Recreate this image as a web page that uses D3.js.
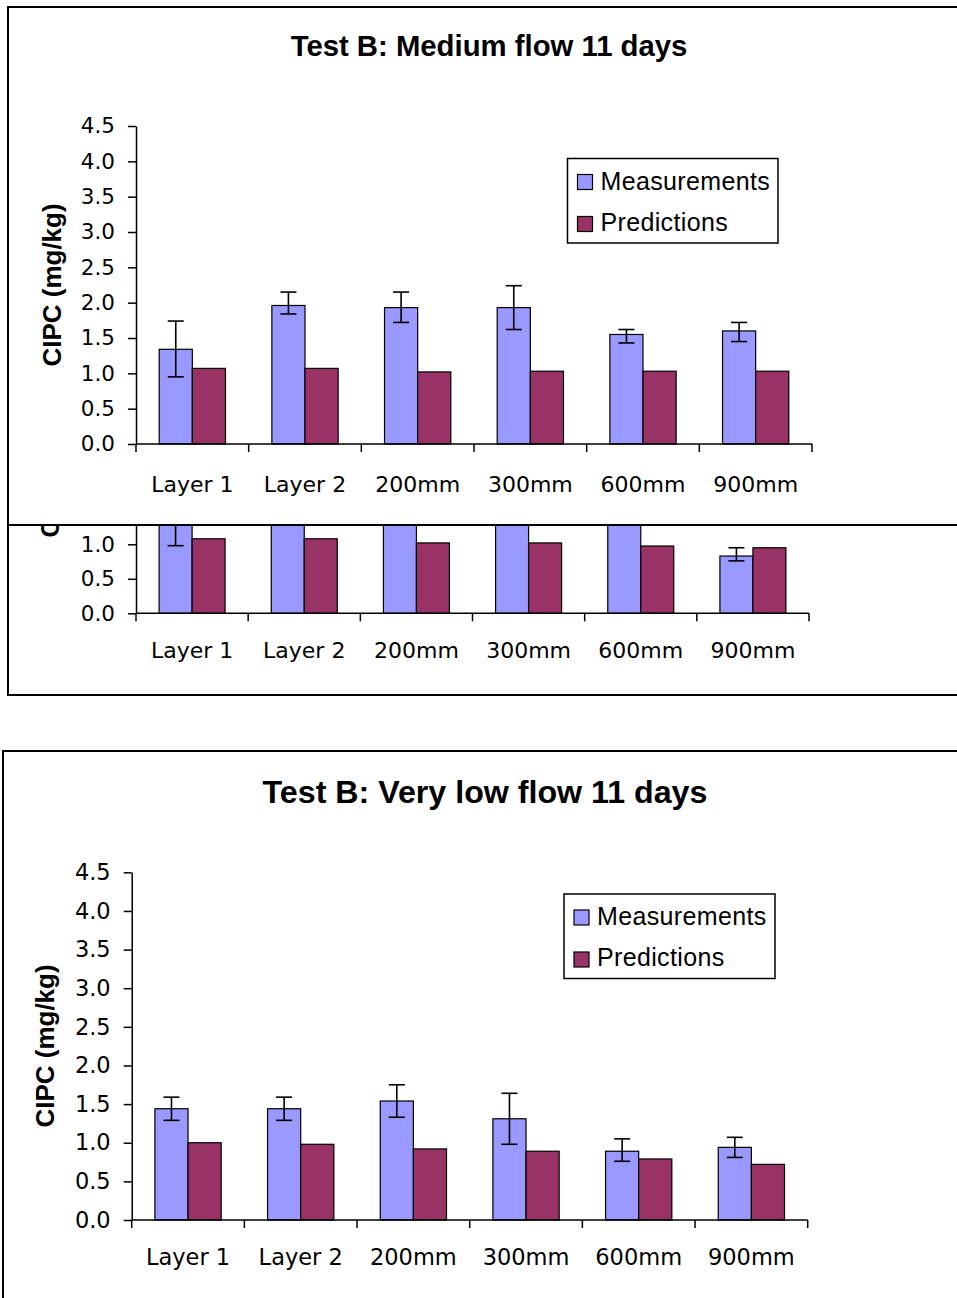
<!DOCTYPE html>
<html>
<head>
<meta charset="utf-8">
<script src="https://cdn.jsdelivr.net/npm/d3@7"></script>
<style>
  html, body { margin: 0; padding: 0; background: #fff; overflow: hidden; }
</style>
</head>
<body>
<div id="chart"></div>
<script>
const categories = ["Layer 1", "Layer 2", "200mm", "300mm", "600mm", "900mm"];
const seriesNames = ["Measurements", "Predictions"];
const yTickValues = [0, 0.5, 1, 1.5, 2, 2.5, 3, 3.5, 4, 4.5];

// Test B: Medium flow 11 days
const mediumMeas = [1.34, 1.96, 1.93, 1.93, 1.55, 1.60];
const mediumLow  = [0.95, 1.84, 1.72, 1.62, 1.43, 1.45];
const mediumHigh = [1.74, 2.15, 2.15, 2.24, 1.62, 1.72];
const mediumPred = [1.07, 1.07, 1.02, 1.03, 1.03, 1.03];

// chart lying underneath, mostly covered by the one above
const coveredMeas = [1.35, 1.95, 1.90, 1.90, 1.55, 0.83];
const coveredLow  = [0.98, 1.80, 1.70, 1.60, 1.42, 0.76];
const coveredHigh = [1.72, 2.10, 2.10, 2.20, 1.70, 0.95];
const coveredPred = [1.08, 1.08, 1.02, 1.02, 0.975, 0.95];

// Test B: Very low flow 11 days
const lowMeas = [1.44, 1.44, 1.54, 1.31, 0.89, 0.94];
const lowLow  = [1.29, 1.29, 1.33, 0.98, 0.76, 0.81];
const lowHigh = [1.59, 1.59, 1.75, 1.64, 1.05, 1.07];
const lowPred = [1.00, 0.98, 0.92, 0.89, 0.79, 0.72];

(function() {
  const colors = { Measurements: "#9999ff", Predictions: "#993366" };
  const tickFontFamily = "'DejaVu Sans', sans-serif";
  const labelFontFamily = "'Liberation Sans', Arial, sans-serif";

  const svg = d3.select("#chart").append("svg")
    .attr("width", 957).attr("height", 1298)
    .style("display", "block");

  function drawChart(cfg, meas, low, high, pred) {
    const g = svg.append("g");

    // Frame (white so it hides whatever lies underneath)
    g.append("rect")
      .attr("x", cfg.frame[0]).attr("y", cfg.frame[1])
      .attr("width", cfg.frame[2]).attr("height", cfg.frame[3])
      .attr("fill", "#fff").attr("stroke", "#000").attr("stroke-width", 2);

    const x = d3.scaleBand().domain(categories).range([cfg.x0, cfg.x1]);
    const xs = d3.scaleBand().domain(seriesNames).range([0, x.bandwidth()]).paddingOuter(0.7);
    const y = d3.scaleLinear().domain([0, 4.5]).range([cfg.y0, cfg.y1]);

    // Title
    if (cfg.title) {
      g.append("text")
        .attr("x", cfg.titleX).attr("y", cfg.titleY)
        .attr("text-anchor", "middle")
        .style("font-family", labelFontFamily).style("font-weight", "bold")
        .style("font-size", cfg.titleSize + "px")
        .text(cfg.title);
    }

    // Y axis title
    g.append("text")
      .attr("transform", `translate(${cfg.yLabelX},${cfg.yLabelY}) rotate(-90)`)
      .attr("text-anchor", "middle").attr("dy", "0.35em")
      .style("font-family", labelFontFamily).style("font-weight", "bold")
      .style("font-size", cfg.yLabelSize + "px")
      .text("CIPC (mg/kg)");

    // Bars
    categories.forEach((c, i) => {
      const vals = { Measurements: meas[i], Predictions: pred[i] };
      seriesNames.forEach(s => {
        g.append("rect")
          .attr("x", x(c) + xs(s)).attr("y", y(vals[s]))
          .attr("width", xs.bandwidth()).attr("height", y(0) - y(vals[s]))
          .attr("fill", colors[s]).attr("stroke", "#000").attr("stroke-width", 1.2);
      });

      // Error bar on the measurement
      const cx = x(c) + xs("Measurements") + xs.bandwidth() / 2;
      const eb = g.append("g").attr("stroke", "#000").attr("stroke-width", 1.6);
      eb.append("line").attr("x1", cx).attr("x2", cx).attr("y1", y(low[i])).attr("y2", y(high[i]));
      [low[i], high[i]].forEach(v => {
        eb.append("line").attr("x1", cx - 8).attr("x2", cx + 8).attr("y1", y(v)).attr("y2", y(v));
      });
    });

    // Y axis
    const yAxis = g.append("g")
      .attr("transform", `translate(${cfg.x0},0)`)
      .call(d3.axisLeft(y).tickValues(cfg.ticks || yTickValues).tickFormat(d3.format(".1f"))
        .tickSize(8).tickSizeOuter(0).tickPadding(13));
    yAxis.select(".domain").attr("stroke", "#000").attr("stroke-width", 1.5);
    yAxis.selectAll(".tick line").attr("stroke", "#000").attr("stroke-width", 1.5);
    yAxis.selectAll("text")
      .style("font-family", tickFontFamily).style("font-size", cfg.tickSize + "px")
      .attr("fill", "#000");

    // X axis: line, ticks between categories, labels centred in each band
    const xAxis = g.append("g");
    xAxis.append("line")
      .attr("x1", cfg.x0).attr("x2", cfg.x1).attr("y1", y(0)).attr("y2", y(0))
      .attr("stroke", "#000").attr("stroke-width", 1.5);
    categories.map(c => x(c)).concat([x(categories[categories.length - 1]) + x.bandwidth()]).forEach(px => {
      xAxis.append("line")
        .attr("x1", px).attr("x2", px).attr("y1", y(0)).attr("y2", y(0) + 8)
        .attr("stroke", "#000").attr("stroke-width", 1.5);
    });
    categories.forEach(c => {
      xAxis.append("text")
        .attr("x", x(c) + x.bandwidth() / 2).attr("y", y(0) + cfg.labelGap)
        .attr("text-anchor", "middle")
        .style("font-family", tickFontFamily).style("font-size", cfg.catSize + "px")
        .text(c);
    });

    // Legend
    if (cfg.legend) {
      const [lx, ly, lw, lh] = cfg.legend;
      const leg = g.append("g").attr("transform", `translate(${lx},${ly})`);
      leg.append("rect").attr("width", lw).attr("height", lh)
        .attr("fill", "#fff").attr("stroke", "#000").attr("stroke-width", 1.5);
      seriesNames.forEach((s, i) => {
        leg.append("rect")
          .attr("x", 10).attr("y", 16 + i * 42).attr("width", 15).attr("height", 15)
          .attr("fill", colors[s]).attr("stroke", "#000").attr("stroke-width", 1.2);
        leg.append("text")
          .attr("x", 33).attr("y", 31 + i * 41)
          .style("font-family", labelFontFamily).style("font-size", "25px")
          .style("letter-spacing", "0.35px")
          .text(s);
      });
    }
  }

  // Chart underneath (only its lower part shows, so only those ticks)
  drawChart({
    frame: [8, 190, 1100, 505],
    x0: 136, x1: 809, y0: 613.3, y1: 302.8,
    ticks: yTickValues.slice(0, 3),
    yLabelX: 50, yLabelY: 459, yLabelSize: 25,
    tickSize: 21.5, catSize: 22, labelGap: 45
  }, coveredMeas, coveredLow, coveredHigh, coveredPred);

  // Test B: Medium flow 11 days
  drawChart({
    frame: [8, 7, 1100, 518],
    x0: 136, x1: 812, y0: 444, y1: 126,
    title: "Test B: Medium flow 11 days", titleX: 489, titleY: 56, titleSize: 29.3,
    yLabelX: 52, yLabelY: 285, yLabelSize: 26,
    tickSize: 21.5, catSize: 22, labelGap: 48,
    legend: [567.5, 158.5, 210.5, 84.5]
  }, mediumMeas, mediumLow, mediumHigh, mediumPred);

  // Test B: Very low flow 11 days
  drawChart({
    frame: [3, 751, 1100, 700],
    x0: 131.7, x1: 807.7, y0: 1220, y1: 872.3,
    title: "Test B: Very low flow 11 days", titleX: 485, titleY: 803, titleSize: 32.2,
    yLabelX: 45, yLabelY: 1046, yLabelSize: 26,
    tickSize: 22.5, catSize: 22.5, labelGap: 45,
    legend: [564, 894, 211, 84.5]
  }, lowMeas, lowLow, lowHigh, lowPred);
})();
</script>
</body>
</html>
